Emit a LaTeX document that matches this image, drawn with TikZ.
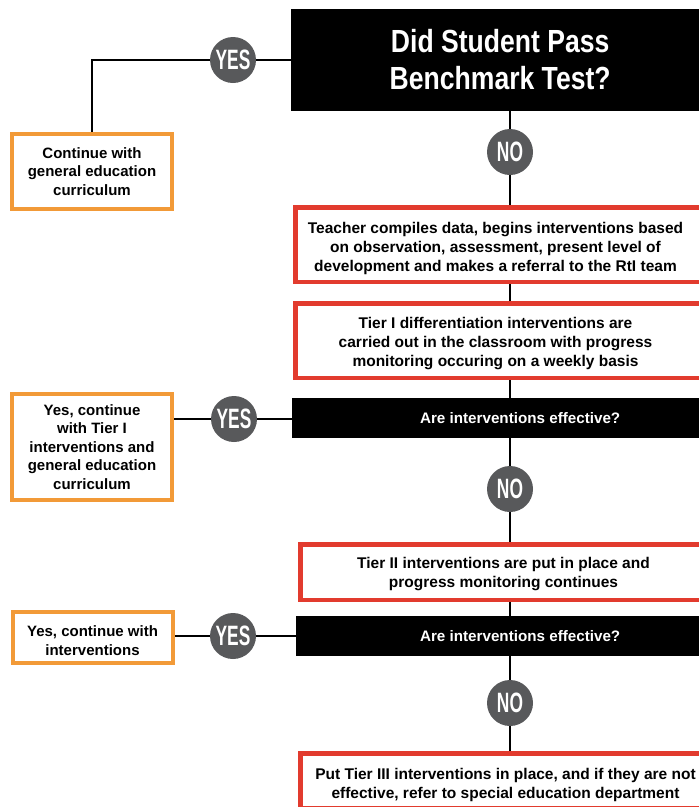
\documentclass[tikz,border=0pt]{standalone}
\usepackage{fontspec}
\setmainfont{Liberation Sans}
\newfontfamily\titlefont{Liberation Sans}[FakeStretch=0.83]
\newfontfamily\tagfont{Liberation Sans}[FakeStretch=0.62]
\usetikzlibrary{backgrounds}
\definecolor{rtired}{HTML}{E23B2E}
\definecolor{rtiorange}{HTML}{F29A38}
\definecolor{rtigray}{HTML}{58595B}
\begin{document}
\begin{tikzpicture}[x=1pt,y=-1pt]
    \tikzset{
        boxtext/.style={font=\bfseries\fontsize{15.5}{19}\selectfont, align=center, text=black},
        redbox/.style={draw=rtired, line width=4.5pt, fill=white, anchor=west, minimum width=440pt, inner sep=0pt},
        keeptext/.style={font=\bfseries\fontsize{15}{18.5}\selectfont, align=center, text=black},
        orangebox/.style={draw=rtiorange, line width=4pt, fill=white, minimum width=160pt, inner sep=0pt, keeptext},
        blackbar/.style={fill=black, anchor=west, minimum width=440pt, inner sep=0pt},
        bartext/.style={text=white, font=\bfseries\fontsize{15.2}{15}\selectfont},
        answer/.style={circle, fill=rtigray, minimum size=46pt, inner sep=0pt, text=white,
            font=\tagfont\bfseries\fontsize{28}{28}\selectfont},
        link/.style={line width=2pt, black},
    }
    \useasboundingbox (0,0) rectangle (699,807);
    \clip (0,0) rectangle (699,807);
    % question and first answer
    \node[blackbar, minimum height=102pt,
        label={[text=white, align=center, xshift=-11pt, font=\titlefont\bfseries\fontsize{32}{37}\selectfont]center:Did Student Pass\\Benchmark Test?}]
        (bench) at (291,60) {};
    \node[answer] (yesbench) at (233,60) {YES};
    \node[orangebox, minimum height=75pt] (keepgen) at (92,171.5) {Continue with\\general education\\curriculum};
    \node[answer] (nobench) at (510,152) {NO};
    \node[redbox, minimum height=74.5pt,
        label={[boxtext, xshift=-20pt, yshift=-4pt]center:Teacher compiles data, begins interventions based\\on observation, assessment, present level of\\development and makes a referral to the RtI team}]
        (data) at (293.25,244.5) {};
    % tier I
    \node[redbox, minimum height=74.5pt,
        label={[boxtext, xshift=-20pt, yshift=-3.5pt]center:Tier I differentiation interventions are\\carried out in the classroom with progress\\monitoring occuring on a weekly basis}]
        (tierone) at (293.25,340.5) {};
    \node[blackbar, minimum height=40pt, label={[bartext, xshift=8pt]center:Are interventions effective?}]
        (effone) at (292,418) {};
    \node[answer] (yesone) at (234,419) {YES};
    \node[orangebox, minimum height=106pt] (keepone) at (92,447) {Yes, continue\\with Tier I\\interventions and\\general education\\curriculum};
    \node[answer] (noone) at (510,489) {NO};
    % tier II
    \node[redbox, minimum height=55.5pt,
        label={[boxtext, xshift=-17pt, yshift=-2pt]center:Tier II interventions are put in place and\\progress monitoring continues}]
        (tiertwo) at (298.25,572) {};
    \node[blackbar, minimum height=40pt, label={[bartext, xshift=4pt]center:Are interventions effective?}]
        (efftwo) at (296,636) {};
    \node[answer] (yestwo) at (233,636) {YES};
    \node[orangebox, minimum height=51pt,
        label={[keeptext, yshift=-3pt]center:Yes, continue with\\interventions}]
        (keeptwo) at (92.5,637.5) {};
    \node[answer] (notwo) at (510,703) {NO};
    % tier III
    \node[redbox, minimum height=54.5pt,
        label={[boxtext, xshift=-15pt, yshift=-4pt]center:Put Tier III interventions in place, and if they are not\\effective, refer to special education department}]
        (tierthree) at (298.25,780.5) {};
    % connectors
    \begin{scope}[on background layer]
        \draw[link] (bench.west |- yesbench) -- (yesbench.center) -| (keepgen.north);
        \draw[link] (bench.south -| nobench) -- (nobench.center) -- (nobench |- data.north);
        \draw[link] (data.south -| nobench) -- (nobench |- tierone.north);
        \draw[link] (tierone.south -| nobench) -- (nobench |- effone.north);
        \draw[link] (keepone.east |- yesone) -- (yesone.center) -- (effone.west |- yesone);
        \draw[link] (effone.south -| noone) -- (noone.center) -- (noone |- tiertwo.north);
        \draw[link] (tiertwo.south -| noone) -- (noone |- efftwo.north);
        \draw[link] (keeptwo.east |- yestwo) -- (yestwo.center) -- (efftwo.west |- yestwo);
        \draw[link] (efftwo.south -| notwo) -- (notwo.center) -- (notwo |- tierthree.north);
    \end{scope}
\end{tikzpicture}
\end{document}
